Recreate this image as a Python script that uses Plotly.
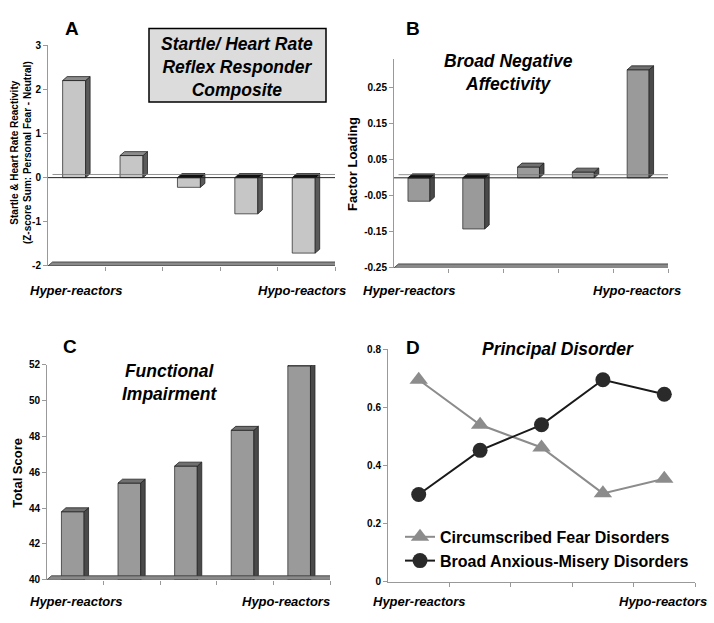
import plotly.graph_objects as go

# ---------------- data ----------------
groups = [0, 1, 2, 3, 4]
end_labels = ["Hyper-reactors", "Hypo-reactors"]
startle = [2.2, 0.5, -0.22, -0.82, -1.71]
neg_aff = [-0.065, -0.142, 0.03, 0.016, 0.30]
func_imp = [43.8, 45.4, 46.35, 48.35, 51.95]
fear = [0.695, 0.54, 0.462, 0.304, 0.354]
anxious = [0.30, 0.452, 0.54, 0.695, 0.645]

W, H = 714, 623
FONT = "Liberation Sans"


def px(x):
    return x / W


def py(y):
    return 1 - y / H


# panel geometry (pixels): left, right, top, bottom
panels = {
    "A": dict(l=48, r=335, t=40, b=265, rng=[-2, 3]),
    "B": dict(l=394, r=668, t=54, b=267, rng=[-0.25, 0.33]),
    "C": dict(l=47, r=330, t=366, b=585, rng=[40, 52]),
    "D": dict(l=388, r=695, t=350, b=587, rng=[0, 0.8]),
}

fig = go.Figure()

BAR_W = 0.4
BAR_OFF = -0.245
DX_PX, DY_PX = 4.5, 4.0


def add_3d_bars(xa, ya, vals, p, base, front, side, top, neg_top):
    ux = (p["r"] - p["l"]) / 5.0
    uy = (p["b"] - p["t"]) / (p["rng"][1] - p["rng"][0])
    dx, dy = DX_PX / ux, DY_PX / uy
    fig.add_trace(go.Bar(x=groups, y=[v - base for v in vals], base=base,
                         width=BAR_W, offset=BAR_OFF, xaxis=xa, yaxis=ya,
                         marker=dict(color=front, line=dict(color="#333", width=0.8)),
                         showlegend=False, hoverinfo="skip"))
    sx, sy, tx, ty, nx, ny = [], [], [], [], [], []
    for g, v in zip(groups, vals):
        x0 = g + BAR_OFF
        x1 = x0 + BAR_W
        sx += [x1, x1 + dx, x1 + dx, x1, x1, None]
        sy += [base, base + dy, v + dy, v, base, None]
        hi = max(v, base)
        cx = [x0, x0 + dx, x1 + dx, x1, x0, None]
        cy = [hi, hi + dy, hi + dy, hi, hi, None]
        if v >= base:
            tx += cx; ty += cy
        else:
            nx += cx; ny += cy
    fig.add_trace(go.Scatter(x=sx, y=sy, fill="toself", fillcolor=side, mode="lines",
                             line=dict(color="#222", width=0.8), xaxis=xa, yaxis=ya,
                             showlegend=False, hoverinfo="skip"))
    if tx:
        fig.add_trace(go.Scatter(x=tx, y=ty, fill="toself", fillcolor=top, mode="lines",
                                 line=dict(color="#222", width=0.8), xaxis=xa, yaxis=ya,
                                 showlegend=False, hoverinfo="skip"))
    if nx:
        fig.add_trace(go.Scatter(x=nx, y=ny, fill="toself", fillcolor=neg_top, mode="lines",
                                 line=dict(color="#000", width=0.8), xaxis=xa, yaxis=ya,
                                 showlegend=False, hoverinfo="skip"))
    # floor slab
    fl = p["rng"][0]
    fig.add_trace(go.Scatter(x=[-0.5, -0.5 + dx, 4.5 + dx, 4.5, -0.5],
                             y=[fl, fl + dy, fl + dy, fl, fl], fill="toself",
                             fillcolor="#8a8a8a", mode="lines",
                             line=dict(color="#333", width=0.8), xaxis=xa, yaxis=ya,
                             showlegend=False, hoverinfo="skip"))
    return dx, dy


dA = add_3d_bars("x", "y", startle, panels["A"], 0, "#c6c6c6", "#5a5a5a", "#8c8c8c", "#111")
dB = add_3d_bars("x2", "y2", neg_aff, panels["B"], 0, "#9a9a9a", "#4a4a4a", "#707070", "#111")
dC = add_3d_bars("x3", "y3", func_imp, panels["C"], 40, "#9a9a9a", "#4a4a4a", "#707070", "#111")

# zero planes (front line + back line) for A and B
for xa, ya, d in [("x", "y", dA), ("x2", "y2", dB)]:
    fig.add_trace(go.Scatter(x=[-0.5, 4.5], y=[0, 0], mode="lines",
                             line=dict(color="#222", width=1), xaxis=xa, yaxis=ya,
                             showlegend=False, hoverinfo="skip"))
    fig.add_trace(go.Scatter(x=[-0.5 + d[0], 4.5 + d[0]], y=[d[1] * 0.8, d[1] * 0.8], mode="lines",
                             line=dict(color="#777", width=0.8), xaxis=xa, yaxis=ya,
                             showlegend=False, hoverinfo="skip"))

# panel D lines
fig.add_trace(go.Scatter(x=groups, y=fear, mode="lines+markers", xaxis="x4", yaxis="y4",
                         name="<b>Circumscribed Fear Disorders</b>",
                         line=dict(color="#8c8c8c", width=2),
                         marker=dict(symbol="triangle-up", size=16, color="#8c8c8c")))
fig.add_trace(go.Scatter(x=groups, y=anxious, mode="lines+markers", xaxis="x4", yaxis="y4",
                         name="<b>Broad Anxious-Misery Disorders</b>",
                         line=dict(color="#1a1a1a", width=2),
                         marker=dict(symbol="circle", size=15, color="#2a2a2a")))

tickfont = dict(family=FONT, size=10, color="black", weight="bold")


def hyph(v, fmt):
    return (fmt % v).replace("\u2212", "-")


ytick_sets = {
    "A": [-2, -1, 0, 1, 2, 3],
    "B": [-0.25, -0.15, -0.05, 0.05, 0.15, 0.25],
    "C": [40, 42, 44, 46, 48, 50, 52],
    "D": [0, 0.2, 0.4, 0.6, 0.8],
}
fmts = {"A": "%d", "B": "%.2f", "C": "%d", "D": "%g"}

axes = {}
for i, key in enumerate(["A", "B", "C", "D"]):
    p = panels[key]
    sfx = "" if i == 0 else str(i + 1)
    xname = "xaxis" + sfx
    yname = "yaxis" + sfx
    axes[xname] = dict(domain=[px(p["l"]), px(p["r"])], range=[-0.5, 4.5],
                       anchor="y" + sfx, showgrid=False, zeroline=False,
                       showline=(key == "D"), linecolor="#999", linewidth=1,
                       tickvals=[0.5, 1.5, 2.5, 3.5, 4.5], showticklabels=False,
                       ticks="outside", ticklen=4, tickcolor="#999", fixedrange=True)
    axes[yname] = dict(domain=[py(p["b"]), py(p["t"])], range=p["rng"],
                       anchor="x" + sfx, showgrid=False, zeroline=False,
                       showline=True, linecolor="#999", linewidth=1,
                       tickvals=ytick_sets[key],
                       ticktext=[hyph(v, fmts[key]) for v in ytick_sets[key]],
                       ticks="outside", ticklen=4, tickcolor="#999",
                       tickfont=tickfont, fixedrange=True)

ann = []


def txt(x, y, s, size, italic=False, angle=0, xanchor="center"):
    st = "<i>%s</i>" % s if italic else s
    ann.append(dict(x=px(x), y=py(y), xref="paper", yref="paper", text="<b>%s</b>" % st,
                    showarrow=False, textangle=angle, xanchor=xanchor, yanchor="middle",
                    font=dict(family=FONT, size=size, color="black")))


# panel letters
txt(72, 23, "A", 19)
txt(413, 23, "B", 19)
txt(70, 347, "C", 19)
txt(413, 348, "D", 19)

# titles
txt(237, 62, "Startle/ Heart Rate<br>Reflex Responder<br>Composite", 17.5, italic=True)
txt(508, 68, "Broad Negative<br>Affectivity", 17.5, italic=True)
txt(170, 384, "Functional<br>Impairment", 17.5, italic=True)
txt(558, 350, "Principal Disorder", 17.5, italic=True)

# y labels
txt(21, 150, "Startle & Heart Rate Reactivity<br>(Z-score Sum: Personal Fear - Neutral)", 10, angle=-90)
txt(353, 161, "Factor Loading", 13, angle=-90)
txt(18, 476, "Total Score", 13, angle=-90)

# end labels
txt(76, 290, end_labels[0], 13, italic=True)
txt(302, 290, end_labels[1], 13, italic=True)
txt(410, 290, end_labels[0], 13, italic=True)
txt(637, 290, end_labels[1], 13, italic=True)
txt(76, 607, end_labels[0], 13, italic=True)
txt(286, 607, end_labels[1], 13, italic=True)
txt(419, 607, end_labels[0], 13, italic=True)
txt(663, 607, end_labels[1], 13, italic=True)

shapes = [dict(type="rect", xref="paper", yref="paper", x0=px(149), x1=px(326),
               y0=py(98), y1=py(23), fillcolor="#dcdcdc",
               line=dict(color="black", width=1.5), layer="below")]

fig.update_layout(width=W, height=H, margin=dict(l=0, r=0, t=0, b=0),
                  paper_bgcolor="white", plot_bgcolor="white",
                  annotations=ann, shapes=shapes, bargap=0,
                  legend=dict(x=px(400), y=py(524), xanchor="left", yanchor="top",
                              bgcolor="rgba(0,0,0,0)",
                              font=dict(family=FONT, size=16, color="black"),
                              itemwidth=30, tracegroupgap=2),
                  **axes)

fig.write_html("out.html", config={"displayModeBar": False, "staticPlot": True},
               post_script="document.body.style.margin='0';document.body.style.padding='0';"
                           "document.body.style.overflow='hidden';")
